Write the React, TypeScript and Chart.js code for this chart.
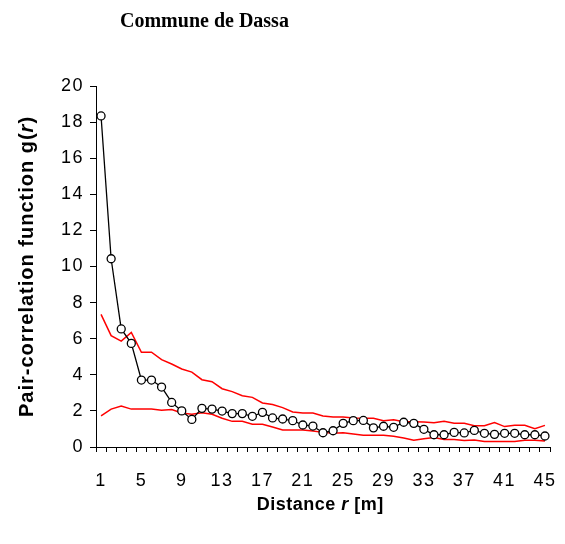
import React, { useEffect, useRef } from "react";
import { Chart, registerables } from "chart.js";

Chart.register(...registerables);

const distances: string[] = Array.from({ length: 45 }, (_, i) => String(i + 1));

const observed: number[] = [
  18.34, 10.43, 6.54, 5.74, 3.71, 3.71, 3.32, 2.47, 2.0, 1.53,
  2.14, 2.1, 1.99, 1.85, 1.85, 1.7, 1.92, 1.61, 1.55, 1.46,
  1.22, 1.16, 0.79, 0.9, 1.31, 1.46, 1.47, 1.06, 1.15, 1.09,
  1.37, 1.31, 0.98, 0.68, 0.68, 0.81, 0.78, 0.92, 0.76, 0.7,
  0.76, 0.76, 0.68, 0.68, 0.61,
];

const upperEnvelope: number[] = [
  7.35, 6.17, 5.87, 6.35, 5.25, 5.25, 4.84, 4.6, 4.32, 4.15,
  3.73, 3.62, 3.23, 3.07, 2.84, 2.75, 2.44, 2.35, 2.18, 1.94,
  1.88, 1.88, 1.72, 1.66, 1.66, 1.61, 1.59, 1.59, 1.46, 1.51,
  1.4, 1.4, 1.39, 1.35, 1.42, 1.31, 1.31, 1.18, 1.18, 1.35,
  1.13, 1.2, 1.2, 1.02, 1.2,
];

const lowerEnvelope: number[] = [
  1.72, 2.1, 2.27, 2.1, 2.1, 2.1, 2.03, 2.08, 1.88, 1.82,
  1.9, 1.81, 1.59, 1.42, 1.42, 1.26, 1.26, 1.11, 0.94, 0.94,
  0.94, 0.89, 0.81, 0.76, 0.79, 0.72, 0.65, 0.65, 0.65, 0.59,
  0.5, 0.37, 0.46, 0.53, 0.41, 0.41, 0.36, 0.39, 0.31, 0.31,
  0.31, 0.31, 0.37, 0.37, 0.33,
];

const titleText = "Commune de Dassa";
const yTitle: { text: string; italic: boolean }[] = [
  { text: "Pair-correlation function g(", italic: false },
  { text: "r", italic: true },
  { text: ")", italic: false },
];
const xTitle: { text: string; italic: boolean }[] = [
  { text: "Distance ", italic: false },
  { text: "r", italic: true },
  { text: " [m]", italic: false },
];

const SANS = "'Liberation Sans', Arial, sans-serif";

function drawMixed(
  ctx: CanvasRenderingContext2D,
  segs: { text: string; italic: boolean }[],
  size: number,
  spacing: number
) {
  const fontFor = (it: boolean) => `${it ? "italic " : ""}bold ${size}px ${SANS}`;
  (ctx as any).letterSpacing = `${spacing}px`;
  let total = 0;
  const widths = segs.map((s) => {
    ctx.font = fontFor(s.italic);
    const w = ctx.measureText(s.text).width;
    total += w;
    return w;
  });
  total -= spacing;
  let x = -total / 2;
  segs.forEach((s, i) => {
    ctx.font = fontFor(s.italic);
    ctx.fillText(s.text, x, 0);
    x += widths[i];
  });
}

const textPlugin = {
  id: "customText",
  beforeInit(chart: any) {
    (chart.ctx as any).letterSpacing = "1.5px";
  },
  beforeDraw(chart: any) {
    (chart.ctx as any).letterSpacing = "1.5px";
  },
  afterDraw(chart: any) {
    const { ctx, chartArea } = chart;
    ctx.save();
    ctx.fillStyle = "#000";
    ctx.textAlign = "left";
    ctx.textBaseline = "middle";
    // main title
    (ctx as any).letterSpacing = "0px";
    ctx.font = `bold 20px 'Liberation Serif', 'Times New Roman', serif`;
    ctx.fillText(titleText, 120, 22);
    // y title
    ctx.save();
    ctx.translate(27, 267);
    ctx.rotate(-Math.PI / 2);
    drawMixed(ctx, yTitle, 20, 1);
    ctx.restore();
    // x title
    ctx.save();
    ctx.translate((chartArea.left + chartArea.right) / 2 - 3, 505);
    drawMixed(ctx, xTitle, 18, 0.5);
    ctx.restore();
    ctx.restore();
  },
};

export default function App() {
  const ref = useRef<HTMLCanvasElement | null>(null);
  useEffect(() => {
    document.body.style.margin = "0";
    if (!ref.current) return;
    const chart = new Chart(ref.current, {
      type: "line",
      data: {
        labels: distances,
        datasets: [
          {
            label: "Observed",
            data: observed,
            borderColor: "#000",
            borderWidth: 1.3,
            pointRadius: 4,
            pointBorderWidth: 1.3,
            pointBorderColor: "#000",
            pointBackgroundColor: "#fff",
            tension: 0,
          },
          {
            label: "Upper",
            data: upperEnvelope,
            borderColor: "#ff0000",
            borderWidth: 1.5,
            pointRadius: 0,
            tension: 0,
          },
          {
            label: "Lower",
            data: lowerEnvelope,
            borderColor: "#ff0000",
            borderWidth: 1.5,
            pointRadius: 0,
            tension: 0,
          },
        ],
      },
      options: {
        animation: false,
        responsive: false,
        events: [],
        layout: { padding: { left: 0, right: 15, top: 86, bottom: 0 } },
        plugins: {
          legend: { display: false },
          tooltip: { enabled: false },
          title: { display: false },
        },
        scales: {
          x: {
            type: "category",
            offset: true,
            grid: {
              offset: true,
              drawOnChartArea: false,
              drawTicks: true,
              tickLength: 5,
              color: "#000",
              lineWidth: 1,
            },
            border: { display: true, color: "#000", width: 1 },
            ticks: {
              autoSkip: false,
              maxRotation: 0,
              minRotation: 0,
              padding: 18,
              color: "#000",
              font: { family: SANS, size: 18 },
              callback: (_v: any, i: number) => (i % 4 === 0 ? distances[i] : ""),
            },
            afterFit: (scale: any) => {
              scale.height = 97;
              scale.paddingLeft = 0;
              scale.paddingRight = 0;
            },
          },
          y: {
            min: 0,
            max: 20,
            grid: {
              drawOnChartArea: false,
              drawTicks: true,
              tickLength: 6,
              color: "#000",
              lineWidth: 1,
            },
            border: { display: true, color: "#000", width: 1 },
            ticks: {
              stepSize: 2,
              padding: 6,
              color: "#000",
              font: { family: SANS, size: 18 },
            },
            afterFit: (scale: any) => {
              scale.width = 96;
              scale.paddingTop = 0;
              scale.paddingBottom = 0;
            },
          },
        },
      },
      plugins: [textPlugin],
    });
    return () => chart.destroy();
  }, []);
  return (
    <div style={{ width: 565, height: 544 }}>
      <canvas ref={ref} width={565} height={544} style={{ display: "block" }} />
    </div>
  );
}
